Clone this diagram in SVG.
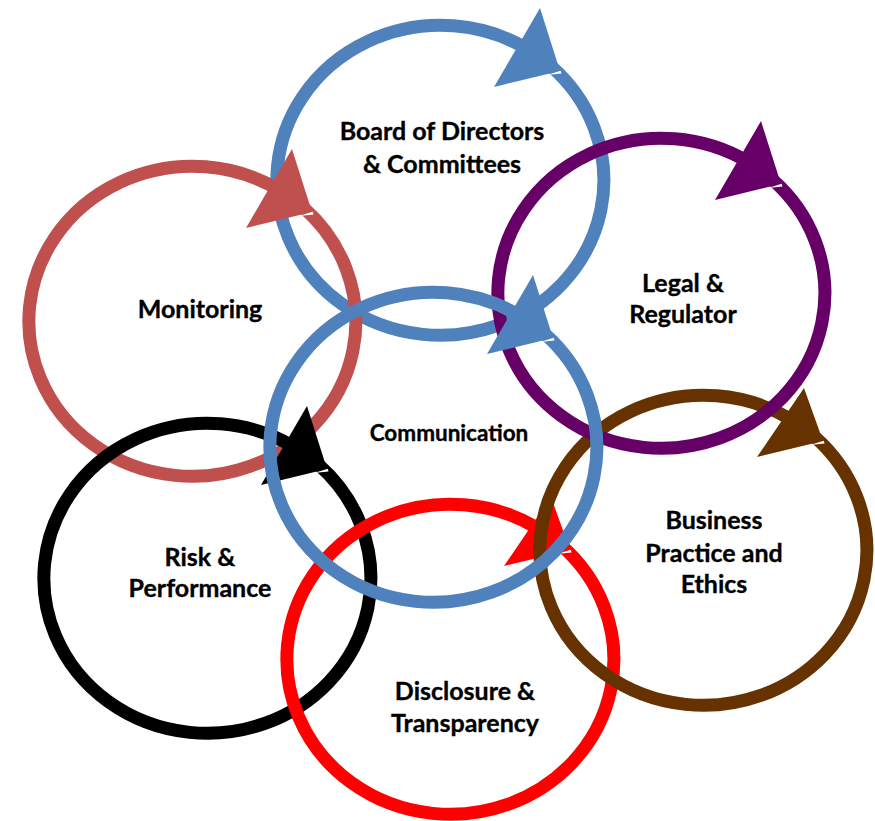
<svg xmlns="http://www.w3.org/2000/svg" xmlns:xlink="http://www.w3.org/1999/xlink" width="875" height="821" viewBox="0 0 875 821">
  <style>
    .ring { fill: none; stroke: currentColor; stroke-width: 13; stroke-linecap: butt; }
    .head { fill: currentColor; stroke: none; }
    .notch { fill: #FFFFFF; stroke: none; }
    .label { font-family: Lato, "Liberation Sans", sans-serif; font-weight: bold; font-size: 25px; fill: #000000; stroke: #000000; stroke-width: 0.35; text-anchor: middle; }
    .label.small { font-size: 22.5px; }
  </style>
  <defs>
    <!-- circular arrow drawn around its own centre: arc runs clockwise and ends under the head -->
    <g id="cycle">
      <path class="ring" d="M111.5,-113.4 A163.5,155 0 1 1 86.6,-131.4"/>
      <polygon class="head" points="54,-93 100,-172 120,-109"/>
      <polygon class="notch" points="107,-105 120.7,-109.3 121.5,-106.5"/>
    </g>
    <g id="cycle-short">
      <path class="ring" d="M111.5,-113.4 A163.5,155 0 1 1 86.6,-131.4"/>
      <polygon class="head" points="54,-93 101,-162 120,-109"/>
      <polygon class="notch" points="107,-105 120.7,-109.3 121.5,-106.5"/>
    </g>
  </defs>

  <g id="connectors"></g>

  <g id="board" style="color:#4F81BD">
    <use xlink:href="#cycle" transform="translate(440,180)"/>
    <text class="label" x="442" y="140">Board of Directors</text>
    <text class="label" x="442" y="173">&amp; Committees</text>
  </g>

  <g id="monitoring" style="color:#C0504D">
    <use xlink:href="#cycle" transform="translate(192,321)"/>
    <text class="label" x="200" y="318">Monitoring</text>
  </g>

  <g id="risk" style="color:#000000">
    <use xlink:href="#cycle" transform="translate(207,578)"/>
    <text class="label" x="200" y="566">Risk &amp;</text>
    <text class="label" x="200" y="597">Performance</text>
  </g>

  <g id="disclosure" style="color:#FF0000">
    <use xlink:href="#cycle-short" transform="translate(450,659)"/>
    <text class="label" x="465" y="700">Disclosure &amp;</text>
    <text class="label" x="465" y="732">Transparency</text>
  </g>

  <g id="business" style="color:#663300">
    <use xlink:href="#cycle-short" transform="translate(703,550)"/>
    <text class="label" x="714" y="529">Business</text>
    <text class="label" x="714" y="562">Practice and</text>
    <text class="label" x="714" y="593">Ethics</text>
  </g>

  <g id="legal" style="color:#660066">
    <use xlink:href="#cycle" transform="translate(661,293)"/>
    <text class="label" x="683" y="292">Legal &amp;</text>
    <text class="label" x="683" y="323">Regulator</text>
  </g>

  <g id="communication" style="color:#4F81BD">
    <use xlink:href="#cycle" transform="translate(433,447)"/>
    <text class="label small" x="449" y="441">Communication</text>
  </g>
</svg>
